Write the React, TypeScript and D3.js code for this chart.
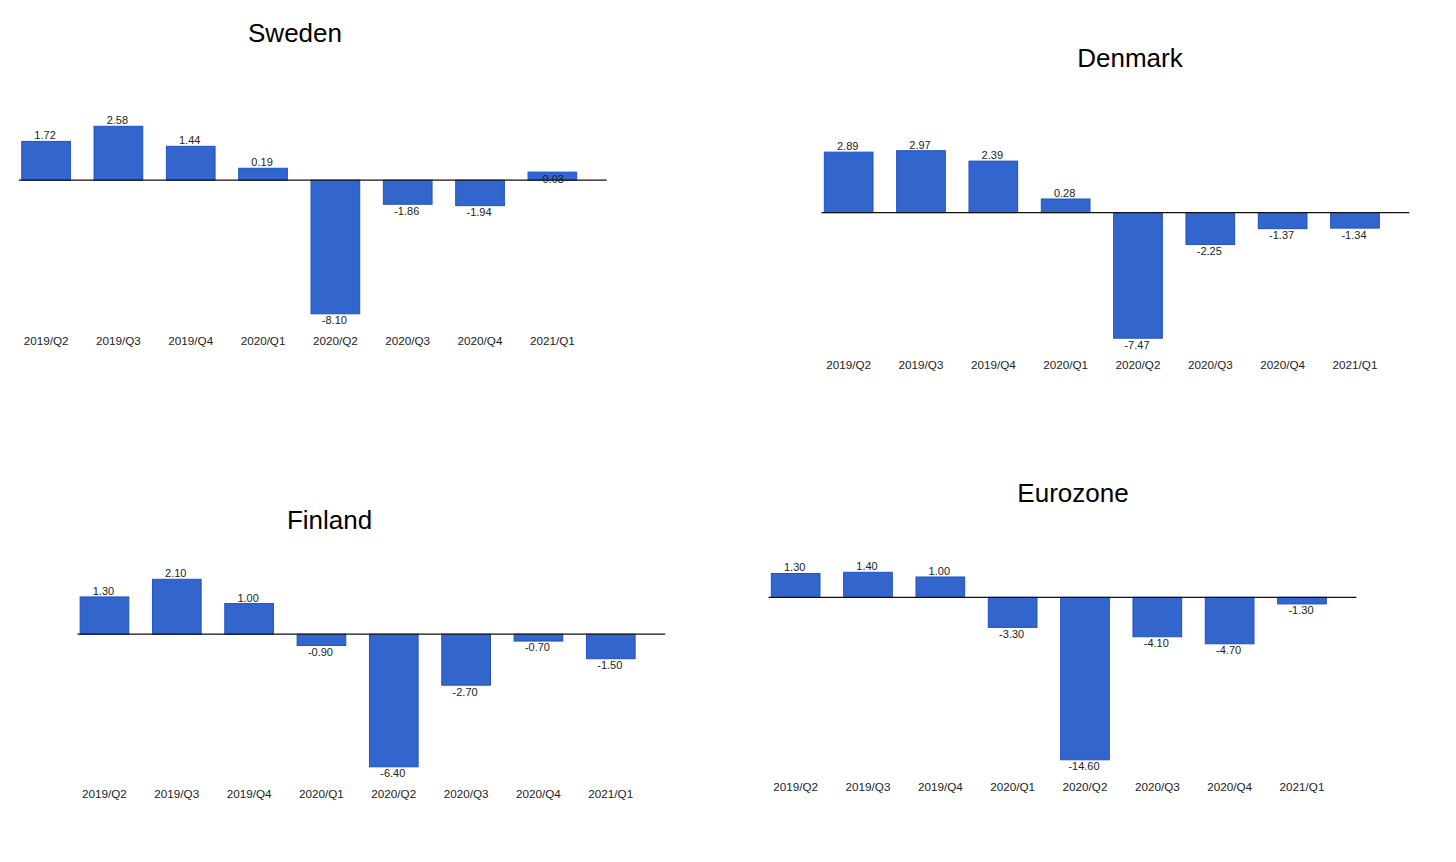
import * as d3 from "d3";

// quarterly GDP change, %
const quarters = ["2019/Q2", "2019/Q3", "2019/Q4", "2020/Q1", "2020/Q2", "2020/Q3", "2020/Q4", "2021/Q1"];
const sweden = [1.72, 2.58, 1.44, 0.19, -8.1, -1.86, -1.94, -0.03];
const denmark = [2.89, 2.97, 2.39, 0.28, -7.47, -2.25, -1.37, -1.34];
const finland = [1.3, 2.1, 1.0, -0.9, -6.4, -2.7, -0.7, -1.5];
const eurozone = [1.3, 1.4, 1.0, -3.3, -14.6, -4.1, -4.7, -1.3];

// where each little chart sits on the page
const panels = [
  { title: "Sweden", values: sweden, bandX: 9.9, plotTop: 126.3, titleX: 295, titleY: 41.7 },
  { title: "Denmark", values: denmark, bandX: 812.5, plotTop: 150.7, titleX: 1130, titleY: 66.7 },
  { title: "Finland", values: finland, bandX: 68.3, plotTop: 579.3, titleX: 329.6, titleY: 529.3 },
  { title: "Eurozone", values: eurozone, bandX: 759.5, plotTop: 572.3, titleX: 1073, titleY: 501.7 },
];

const STEP = 72.33;
const PLOT_H = 187.5;
// the source draws its baseline a few px under the real zero
const BASELINE_OFFSET = 8.6;
const FONT = "'Liberation Sans', Arial, sans-serif";

function Panel({ p }: { p: (typeof panels)[number] }) {
  const x = d3
    .scaleBand<string>()
    .domain(quarters)
    .range([p.bandX, p.bandX + STEP * quarters.length])
    .paddingInner(0.327)
    .paddingOuter(0.1635);

  const [lo, hi] = d3.extent(p.values) as [number, number];
  const y = d3.scaleLinear().domain([lo, hi]).range([p.plotTop + PLOT_H, p.plotTop]);
  const base = y(0) + BASELINE_OFFSET;

  const axisX0 = p.bandX + 9;
  const axisX1 = p.bandX + STEP * quarters.length + 18.2;

  return (
    <g>
      <text x={p.titleX} y={p.titleY} textAnchor="middle" fontSize={26} fill="#000" fontFamily={FONT}>
        {p.title}
      </text>
      {p.values.map((v, i) => {
        const q = quarters[i];
        const yv = y(v);
        return (
          <rect
            key={q}
            x={x(q)}
            y={Math.min(yv, base)}
            width={x.bandwidth()}
            height={Math.abs(base - yv)}
            fill="#3366cc"
            stroke="#1f50c8"
            strokeWidth={1}
          />
        );
      })}
      <line x1={axisX0} x2={axisX1} y1={base} y2={base} stroke="#111" strokeWidth={1.3} />
      {p.values.map((v, i) => {
        const q = quarters[i];
        const cx = (x(q) as number) + x.bandwidth() / 2 - 1;
        const ty = v >= 0 ? y(v) - 2 : y(v) + 10.4;
        return (
          <text key={q} x={cx} y={ty} textAnchor="middle" fontSize={11} fill="#222" fontFamily={FONT}>
            {v.toFixed(2)}
          </text>
        );
      })}
      {quarters.map((q) => (
        <text
          key={q}
          x={(x(q) as number) + x.bandwidth() / 2}
          y={y(lo) + 31}
          textAnchor="middle"
          fontSize={11.7}
          fill="#222"
          fontFamily={FONT}
        >
          {q}
        </text>
      ))}
    </g>
  );
}

export default function App() {
  return (
    <svg
      width={1456}
      height={862}
      style={{ position: "absolute", left: 0, top: 0, background: "#fff" }}
    >
      {panels.map((p) => (
        <Panel key={p.title} p={p} />
      ))}
    </svg>
  );
}
